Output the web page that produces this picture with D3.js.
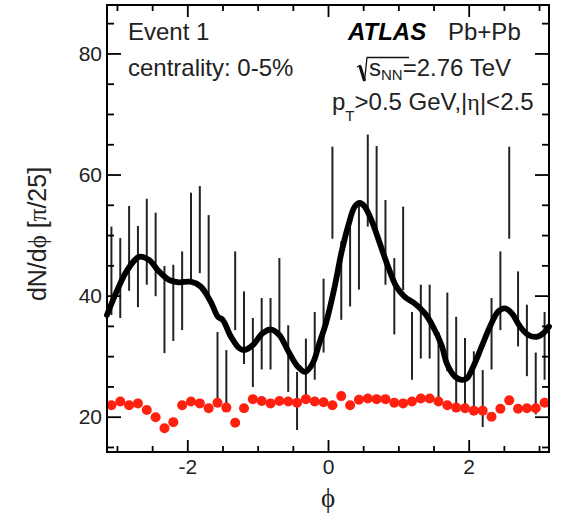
<!DOCTYPE html>
<html>
<head>
    <meta charset="UTF-8" />
    <title>Event 1 - dN/dphi</title>
    <style>
        body {
            margin: 0;
            background-color: #fff;
        }

        svg {
            display: block;
            background-color: #fff;
            font-family: "Liberation Sans", Arial, Helvetica, sans-serif;
        }

        .frame {
            fill: none;
            stroke: #000;
            stroke-width: 2;
        }

        .axis path.domain {
            display: none;
        }

        .axis line {
            stroke: #000;
            stroke-width: 1.8;
        }

        .axis text {
            font-family: "Liberation Sans", Arial, Helvetica, sans-serif;
            font-size: 21px;
            fill: #222;
        }

        .bar {
            stroke: #222;
            stroke-width: 2;
        }

        .greek {
            font-family: "Liberation Serif", "DejaVu Serif", serif;
        }
    </style>
    <script src="https://d3js.org/d3.v7.min.js"></script>
</head>

<body>
    <div id="chart"></div>
    <script>
        // 50 bins of width pi/25 over [-pi, pi]
        const nBins = 50;

        // black: dN/dphi per bin with its error
        const counts = [44.1, 42.9, 47.8, 44.8, 48.9, 46.8, 37.7, 38.8, 40.8, 49.7,
            50.9, 46.5, 28.0, 26.0, 40.8, 34.7, 30.6, 33.7, 33.7, 39.9,
            29.6, 22.6, 27.6, 31.7, 36.7, 57.0, 42.5, 44.8, 48.0, 59.0,
            57.5, 48.8, 39.9, 47.8, 31.7, 35.7, 35.7, 28.6, 34.0, 29.0,
            26.8, 25.7, 23.0, 33.7, 40.8, 57.0, 37.8, 32.6, 25.5, 31.7];
        const errors = [7.3, 6.6, 7.0, 6.7, 7.1, 6.9, 7.2, 6.3, 6.5, 7.3,
            7.2, 6.8, 6.0, 5.0, 6.5, 6.0, 5.7, 5.9, 5.9, 6.3,
            5.5, 4.8, 5.3, 5.6, 6.1, 7.6, 6.5, 6.6, 7.0, 7.6,
            7.2, 7.0, 6.3, 6.9, 5.6, 6.1, 6.1, 5.4, 6.5, 7.5,
            6.2, 5.1, 4.7, 5.9, 6.5, 7.6, 6.2, 5.9, 5.1, 5.6];

        // red points
        const redPoints = [21.9, 22.5, 21.9, 22.2, 21.1, 19.9, 18.1, 19.1, 21.9, 22.5,
            22.2, 21.4, 22.3, 21.5, 19.0, 21.4, 22.9, 22.6, 22.2, 22.6,
            22.5, 22.3, 22.9, 22.5, 22.4, 21.9, 23.4, 21.9, 22.8, 23.0,
            22.9, 22.9, 22.3, 22.2, 22.5, 23.0, 23.0, 22.5, 21.9, 21.5,
            21.4, 21.0, 21.0, 20.0, 21.3, 22.7, 21.3, 21.4, 21.4, 22.3];

        // smooth black curve
        const fitPhi = [-3.142, -2.996, -2.854, -2.687, -2.545, -2.403, -2.261, -2.119, -1.952, -1.810,
            -1.668, -1.564, -1.497, -1.379, -1.261, -1.190, -1.071, -0.928, -0.810, -0.692,
            -0.573, -0.431, -0.323, -0.218, -0.124, -0.028, 0.095, 0.189, 0.284, 0.380,
            0.451, 0.522, 0.616, 0.735, 0.853, 0.971, 1.091, 1.233, 1.375, 1.493,
            1.621, 1.688, 1.806, 1.901, 1.972, 2.066, 2.185, 2.303, 2.421, 2.517,
            2.612, 2.730, 2.848, 2.967, 3.061, 3.142];
        const fitVal = [36.8, 40.9, 44.2, 46.4, 45.9, 44.0, 42.6, 42.2, 42.3, 41.5,
            39.0, 36.5, 36.0, 33.2, 31.3, 31.0, 31.8, 33.8, 34.4, 33.5,
            31.0, 28.3, 27.4, 28.8, 32.1, 35.5, 41.5, 47.0, 51.4, 54.7,
            55.3, 54.7, 52.5, 48.7, 44.8, 41.5, 39.8, 38.7, 37.1, 34.9,
            31.6, 28.8, 26.6, 26.1, 26.3, 28.3, 31.6, 34.9, 37.4, 37.9,
            37.1, 34.9, 33.5, 33.2, 33.8, 34.9];

        const xMajor = [-2, 0, 2];
        const xMinor = [-3, -2.5, -1.5, -1, -0.5, 0.5, 1, 1.5, 2.5, 3];
        const yMajor = [20, 40, 60, 80];
        const yMinor = [15, 25, 30, 35, 45, 50, 55, 65, 70, 75, 85];

        const binWidth = 2 * Math.PI / nBins;
        const bins = d3.range(nBins).map(i => ({
            phi: -Math.PI + (i + 0.5) * binWidth,
            n: counts[i],
            err: errors[i],
            red: redPoints[i]
        }));
        const fit = fitPhi.map((p, i) => ({ phi: p, v: fitVal[i] }));

        let margin = { top: 5, right: 15, bottom: 63, left: 107 },
            width = 564 - margin.left - margin.right,
            height = 515 - margin.top - margin.bottom;

        let svg = d3.select("#chart").append("svg")
            .attr("width", 564)
            .attr("height", 515);

        let g = svg.append("g")
            .attr("transform", "translate(" + margin.left + "," + margin.top + ")");

        let x = d3.scaleLinear().domain([-Math.PI, Math.PI]).range([0, width]);
        let y = d3.scaleLinear().domain([14.17, 88]).range([height, 0]);

        // error bars
        g.append("g")
            .selectAll("line")
            .data(bins)
            .enter()
            .append("line")
            .attr("class", "bar")
            .attr("x1", d => x(d.phi))
            .attr("x2", d => x(d.phi))
            .attr("y1", d => y(d.n - d.err))
            .attr("y2", d => y(d.n + d.err));

        // red points
        g.append("g")
            .selectAll("circle")
            .data(bins)
            .enter()
            .append("circle")
            .attr("cx", d => x(d.phi))
            .attr("cy", d => y(d.red))
            .attr("r", 5)
            .style("fill", "#ff2010");

        // the curve
        let line = d3.line()
            .x(d => x(d.phi))
            .y(d => y(d.v))
            .curve(d3.curveCatmullRom.alpha(0.5));

        g.append("path")
            .datum(fit)
            .attr("d", line)
            .style("fill", "none")
            .style("stroke", "#000")
            .style("stroke-width", 5.8)
            .style("stroke-linejoin", "round")
            .style("stroke-linecap", "round");

        // axes, ticks pointing inward on all four sides
        const fmt = d => String(d);
        g.append("g").attr("class", "axis")
            .attr("transform", "translate(0," + height + ")")
            .call(d3.axisBottom(x).tickValues(xMajor).tickSize(-12).tickSizeOuter(0).tickPadding(7).tickFormat(fmt));
        g.append("g").attr("class", "axis")
            .attr("transform", "translate(0," + height + ")")
            .call(d3.axisBottom(x).tickValues(xMinor).tickSize(-6).tickSizeOuter(0).tickFormat(""));
        g.append("g").attr("class", "axis")
            .call(d3.axisTop(x).tickValues(xMajor).tickSize(-12).tickSizeOuter(0).tickFormat(""));
        g.append("g").attr("class", "axis")
            .call(d3.axisTop(x).tickValues(xMinor).tickSize(-6).tickSizeOuter(0).tickFormat(""));

        g.append("g").attr("class", "axis")
            .call(d3.axisLeft(y).tickValues(yMajor).tickSize(-14).tickSizeOuter(0).tickPadding(5).tickFormat(fmt));
        g.append("g").attr("class", "axis")
            .call(d3.axisLeft(y).tickValues(yMinor).tickSize(-7).tickSizeOuter(0).tickFormat(""));
        g.append("g").attr("class", "axis")
            .attr("transform", "translate(" + width + ",0)")
            .call(d3.axisRight(y).tickValues(yMajor).tickSize(-14).tickSizeOuter(0).tickFormat(""));
        g.append("g").attr("class", "axis")
            .attr("transform", "translate(" + width + ",0)")
            .call(d3.axisRight(y).tickValues(yMinor).tickSize(-7).tickSizeOuter(0).tickFormat(""));

        g.append("rect")
            .attr("class", "frame")
            .attr("x", 0)
            .attr("y", 0)
            .attr("width", width)
            .attr("height", height);

        // axis titles
        let yTitle = svg.append("text")
            .attr("transform", "translate(46,234) rotate(-90)")
            .attr("text-anchor", "middle")
            .style("font-size", "25px")
            .style("fill", "#222");
        yTitle.append("tspan").text("dN/d");
        yTitle.append("tspan").attr("class", "greek").text("ϕ");
        yTitle.append("tspan").text(" [");
        yTitle.append("tspan").attr("class", "greek").text("π");
        yTitle.append("tspan").text("/25]");

        svg.append("text")
            .attr("class", "greek")
            .attr("x", margin.left + x(0))
            .attr("y", 507)
            .attr("text-anchor", "middle")
            .style("font-size", "27px")
            .style("fill", "#222")
            .text("ϕ");

        // labels in the plot
        let labels = svg.append("g").style("font-size", "24px").style("fill", "#222");
        labels.append("text").attr("x", 128).attr("y", 40).text("Event 1");
        labels.append("text").attr("x", 128).attr("y", 76).text("centrality: 0-5%");
        labels.append("text").attr("x", 348).attr("y", 40)
            .style("font-weight", "bold").style("font-style", "italic").style("fill", "#000")
            .text("ATLAS");
        labels.append("text").attr("x", 448).attr("y", 40).text("Pb+Pb");

        // sqrt(s_NN)
        svg.append("path")
            .attr("d", "M357,67 L360,65.5 L364.5,81 L367,57.5 L409,57.5")
            .style("fill", "none")
            .style("stroke", "#111")
            .style("stroke-width", 1.3);
        svg.append("path")
            .attr("d", "M360,66 L364.5,81")
            .style("fill", "none")
            .style("stroke", "#111")
            .style("stroke-width", 3);
        let sq = labels.append("text").attr("x", 369).attr("y", 76);
        sq.append("tspan").text("s");
        sq.append("tspan").attr("dy", 4).style("font-size", "15px").text("NN");
        sq.append("tspan").attr("dy", -4).text("=2.76 TeV");

        let pt = labels.append("text").attr("x", 332).attr("y", 110);
        pt.append("tspan").text("p");
        pt.append("tspan").attr("dy", 11).style("font-size", "15px").text("T");
        pt.append("tspan").attr("dy", -11).text(">0.5 GeV,|");
        pt.append("tspan").attr("class", "greek").text("η");
        pt.append("tspan").text("|<2.5");
    </script>
</body>
</html>
